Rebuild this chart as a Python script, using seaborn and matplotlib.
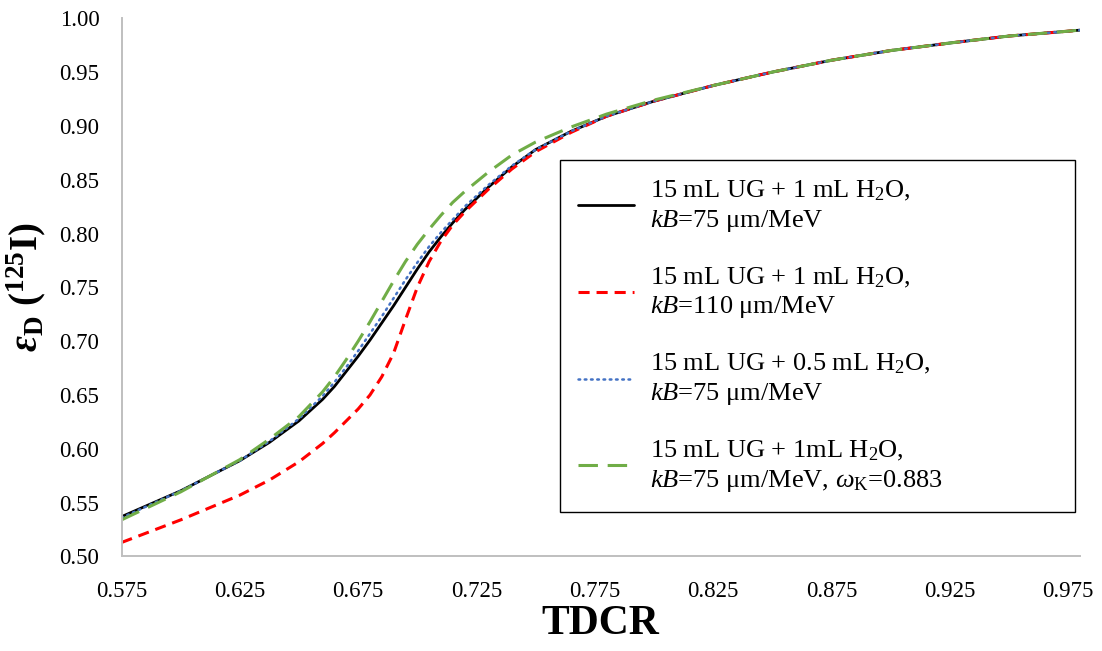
import matplotlib
matplotlib.use("Agg")
import matplotlib.pyplot as plt
import seaborn as sns

# TDCR sampling points
tdcr = [0.575, 0.600, 0.625, 0.6375, 0.650, 0.660, 0.665, 0.670, 0.675, 0.680,
        0.685, 0.690, 0.695, 0.700, 0.705, 0.710, 0.715, 0.720, 0.730, 0.740,
        0.750, 0.765, 0.780, 0.800, 0.825, 0.850, 0.875, 0.900, 0.925, 0.950,
        0.975, 0.980]

eff_ug1_kb75 = [0.537, 0.561, 0.589, 0.606, 0.626, 0.646, 0.658, 0.672, 0.686, 0.701,
                0.717, 0.733, 0.750, 0.767, 0.783, 0.797, 0.810, 0.822, 0.843, 0.862,
                0.878, 0.895, 0.909, 0.923, 0.9375, 0.950, 0.961, 0.970, 0.977, 0.9835,
                0.988, 0.989]
eff_ug1_kb110 = [0.513, 0.534, 0.557, 0.571, 0.588, 0.605, 0.615, 0.626, 0.637, 0.650,
                 0.667, 0.689, 0.720, 0.750, 0.774, 0.793, 0.808, 0.820, 0.841, 0.860,
                 0.876, 0.894, 0.909, 0.923, 0.9375, 0.950, 0.961, 0.970, 0.977, 0.9835,
                 0.988, 0.989]
eff_ug05_kb75 = [0.536, 0.561, 0.589, 0.607, 0.628, 0.649, 0.662, 0.676, 0.691, 0.707,
                 0.723, 0.740, 0.757, 0.773, 0.788, 0.801, 0.813, 0.825, 0.845, 0.863,
                 0.878, 0.895, 0.909, 0.923, 0.9375, 0.950, 0.961, 0.970, 0.977, 0.9835,
                 0.988, 0.989]
eff_ug1_wk = [0.534, 0.560, 0.590, 0.609, 0.630, 0.653, 0.667, 0.683, 0.700, 0.718,
              0.737, 0.756, 0.774, 0.790, 0.804, 0.817, 0.829, 0.839, 0.857, 0.873,
              0.885, 0.899, 0.911, 0.924, 0.9375, 0.950, 0.961, 0.970, 0.977, 0.9835,
              0.988, 0.989]

labels = [
    "15 mL UG + 1 mL H$_2$O,\n$kB$=75 μm/MeV",
    "15 mL UG + 1 mL H$_2$O,\n$kB$=110 μm/MeV",
    "15 mL UG + 0.5 mL H$_2$O,\n$kB$=75 μm/MeV",
    "15 mL UG + 1mL H$_2$O,\n$kB$=75 μm/MeV, $\\omega_{\\mathrm{K}}$=0.883",
]

x_ticks = [0.575, 0.625, 0.675, 0.725, 0.775, 0.825, 0.875, 0.925, 0.975]
x_minor = [0.600, 0.650, 0.700, 0.750, 0.800, 0.850, 0.900, 0.950]
y_ticks = [0.50, 0.55, 0.60, 0.65, 0.70, 0.75, 0.80, 0.85, 0.90, 0.95, 1.00]
y_minor = [0.525, 0.575, 0.625, 0.675, 0.725, 0.775, 0.825, 0.875, 0.925, 0.975]

sns.set_theme(style="white")
plt.rcParams["font.family"] = ["Liberation Serif", "DejaVu Serif"]
plt.rcParams["mathtext.fontset"] = "custom"
plt.rcParams["mathtext.rm"] = "Liberation Serif"
plt.rcParams["mathtext.it"] = "Liberation Serif:italic"
plt.rcParams["mathtext.bf"] = "Liberation Serif:bold"
plt.rcParams["mathtext.sf"] = "Liberation Serif:bold:italic"
plt.rcParams["lines.scale_dashes"] = False
plt.rcParams["text.color"] = "black"
plt.rcParams["axes.labelcolor"] = "black"

GRID = "#BFBFBF"

fig, ax = plt.subplots(figsize=(11.02, 6.51), dpi=100)
fig.subplots_adjust(left=0.1103, right=0.9798, bottom=0.1452, top=0.9719)

series = [
    (eff_ug1_kb75, "#000000", "-", 2.0),
    (eff_ug1_kb110, "#FF0000", (0, (8, 5)), 2.2),
    (eff_ug05_kb75, "#4472C4", (0, (1.2, 3.3)), 1.8),
    (eff_ug1_wk, "#70AD47", (0, (14, 7)), 2.2),
]
for (vals, color, ls, lw), lab in zip(series, labels):
    line_kw = dict(dash_capstyle="round") if ls != "-" and lw < 2 else {}
    sns.lineplot(x=tdcr, y=vals, ax=ax, color=color, linestyle=ls, linewidth=lw,
                 label=lab, sort=False, **line_kw)

ax.set_xlim(0.575, 0.98)
ax.set_ylim(0.50, 1.00)
ax.set_xticks(x_ticks)
ax.set_xticks(x_minor, minor=True)
ax.set_xticklabels([f"{t:.3f}" for t in x_ticks])
ax.set_yticks(y_ticks)
ax.set_yticks(y_minor, minor=True)
ax.set_yticklabels([f"{t:.2f}" for t in y_ticks])

ax.tick_params(which="both", direction="in", color=GRID, length=4.5, width=1,
               labelsize=16.5, labelcolor="black")
ax.tick_params(axis="x", which="both", pad=18)
ax.tick_params(axis="y", which="both", pad=16)

for side in ("top", "right"):
    ax.spines[side].set_visible(False)
for side in ("left", "bottom"):
    ax.spines[side].set_color(GRID)
    ax.spines[side].set_linewidth(1.4)

ax.set_xlabel("TDCR", fontsize=30, fontweight="bold", labelpad=2, color="black")
ax.set_ylabel(r"$\mathsf{\varepsilon}_{\mathbf{D}}\ \mathbf{(^{125}I)}$",
              fontsize=28, labelpad=8, color="black")

leg = ax.legend(loc="lower left", bbox_to_anchor=(0.508, 0.2135, 0.4675, 0.5375),
                bbox_transform=fig.transFigure, mode="expand", fontsize=19,
                frameon=True, fancybox=False, framealpha=1, edgecolor="black",
                handlelength=2.1, handletextpad=0.6, labelspacing=1.2,
                borderpad=0.7, borderaxespad=0)
leg.get_frame().set_linewidth(1.0)
for text in leg.get_texts():
    text.set_linespacing(1.25)
    text.set_color("black")

fig.savefig("out.png", dpi=100)
